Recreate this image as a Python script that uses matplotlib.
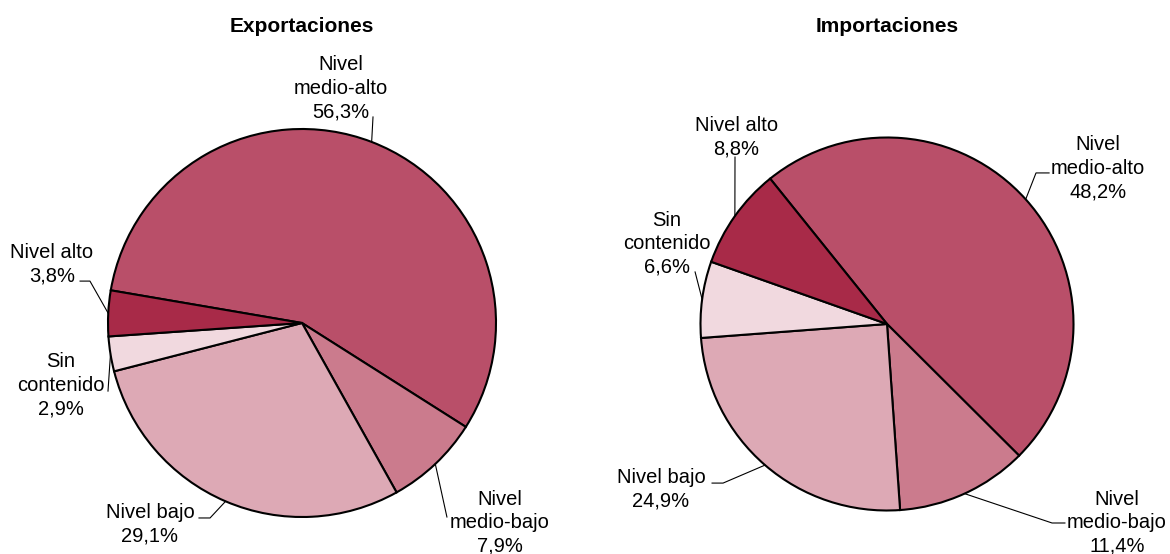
import numpy as np
import matplotlib.pyplot as plt

plt.rcParams['font.family'] = ['Liberation Sans', 'DejaVu Sans']

# data
niveles = ['Nivel\nmedio-alto', 'Nivel\nmedio-bajo', 'Nivel bajo', 'Sin\ncontenido', 'Nivel alto']
export_vals = [56.3, 7.9, 29.1, 2.9, 3.8]
import_vals = [48.2, 11.4, 24.9, 6.6, 8.8]
titles = ['Exportaciones', 'Importaciones']

colors = ['#B94F69', '#CB7B8D', '#DDA9B5', '#F1D9DF', '#A82A48']

W, H = 1170, 554
fig = plt.figure(figsize=(W / 100, H / 100), dpi=100)

# pie centre / radius in pixels, start angle
pies = [
    dict(vals=export_vals, cx=302, cy=323, r=194, start=170.3),
    dict(vals=import_vals, cx=887, cy=324, r=186.5, start=128.8),
]

# label layout: text centre, end of leader (near text), optional elbow
label_pos = [
    [((0.20, 1.21), (0.366, 1.062), None),
     ((1.02, -1.03), (0.747, -1.00), None),
     ((-0.784, -1.036), (-0.531, -1.005), (-0.474, -1.005)),
     ((-1.242, -0.32), (-1.0, -0.351), None),
     ((-1.289, 0.304), (-1.144, 0.216), (-1.093, 0.216))],
    [((1.131, 0.836), (0.869, 0.81), (0.799, 0.81)),
     ((1.233, -1.067), (0.954, -1.067), (0.885, -1.067)),
     ((-1.212, -0.885), (-0.938, -0.853), (-0.879, -0.853)),
     ((-1.18, 0.429), (-1.029, 0.279), None),
     ((-0.807, 1.003), (-0.815, 0.895), None)],
]

for p, title, lp in zip(pies, titles, label_pos):
    r = p['r']
    ax = fig.add_axes([(p['cx'] - r) / W, (H - p['cy'] - r) / H, 2 * r / W, 2 * r / H])
    wedges, _ = ax.pie(p['vals'], colors=colors, startangle=p['start'], counterclock=False,
                       radius=1, wedgeprops=dict(edgecolor='black', linewidth=1.5))
    ax.set_xlim(-1, 1)
    ax.set_ylim(-1, 1)
    ax.set_aspect('equal')
    ax.axis('off')
    for w, name, v, (tpos, lend, elbow) in zip(wedges, niveles, p['vals'], lp):
        ang = np.deg2rad((w.theta1 + w.theta2) / 2)
        ax0 = (np.cos(ang), np.sin(ang))
        xs = [ax0[0]] + ([elbow[0]] if elbow else []) + [lend[0]]
        ys = [ax0[1]] + ([elbow[1]] if elbow else []) + [lend[1]]
        ax.plot(xs, ys, color='black', lw=0.8, clip_on=False)
        txt = name + '\n' + ('%.1f%%' % v).replace('.', ',')
        ax.text(tpos[0], tpos[1], txt, ha='center', va='center', fontsize=14.5,
                linespacing=1.3, clip_on=False)
    fig.text(p['cx'] / W, 1 - 26 / H, title, ha='center', va='center',
             fontsize=15, fontweight='bold')

fig.savefig('out.png', dpi=100)
